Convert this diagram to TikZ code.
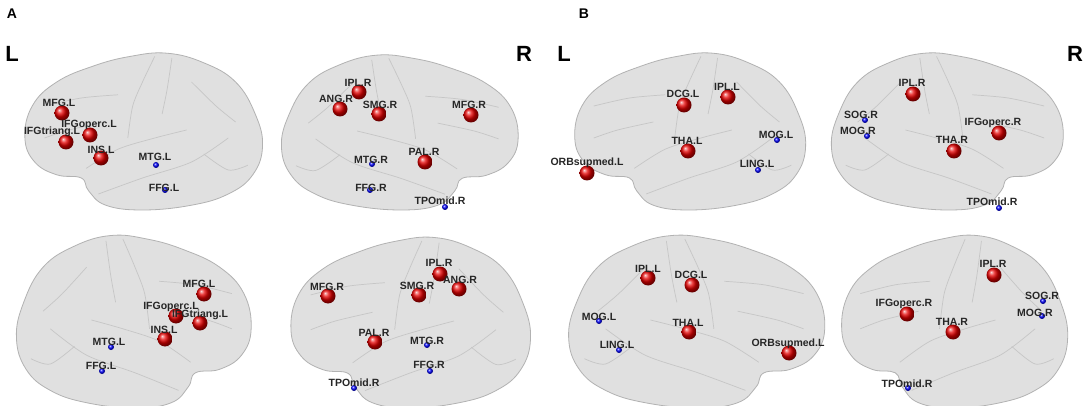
\documentclass[tikz,border=0pt]{standalone}
\usepackage{fontspec}
\setmainfont{Liberation Sans}
\begin{document}
\begin{tikzpicture}[x=1pt,y=-1pt,
  brainfill/.style={fill=gray!24,draw=gray!60,line width=0.8pt},
  sulc/.style={draw=gray!45,line width=0.7pt},
  rball/.style={circle,inner sep=0pt,minimum size=15pt,shading=ball,ball color=red!90!black},
  bball/.style={circle,inner sep=0pt,minimum size=6pt,shading=ball,ball color=blue},
  lab/.style={font=\fontsize{10.5}{12}\selectfont\bfseries,inner sep=0pt,text=black!85},
  big/.style={font=\fontsize{22}{24}\selectfont\bfseries,inner sep=0pt},
  panel/.style={font=\fontsize{14}{16}\selectfont\bfseries,inner sep=0pt}]
\useasboundingbox (0,0) rectangle (1084,406);
\fill[white] (0,0) rectangle (1084,406);
% brain: #1 x, #2 y, #3 w, #4 h, #5 xscale sign
\newcommand\brainshape[5]{%
\begin{scope}[shift={(#1,#2)},xscale=#3*#5,yscale=#4]
\path[brainfill] plot[smooth cycle,tension=0.7] coordinates{(0.02,0.55) (0.05,0.35) (0.15,0.2) (0.3,0.1) (0.45,0.04) (0.6,0.02) (0.75,0.08) (0.88,0.2) (0.96,0.4) (0.99,0.6) (0.95,0.78) (0.85,0.9) (0.7,0.97) (0.5,1.0) (0.35,0.97) (0.28,0.88) (0.25,0.8) (0.15,0.78) (0.06,0.7)};
\draw[sulc] plot[smooth] coordinates{(0.27,0.74) (0.4,0.62) (0.55,0.55) (0.68,0.5)};
\draw[sulc] plot[smooth] coordinates{(0.55,0.04) (0.5,0.2) (0.46,0.35) (0.44,0.55)};
\draw[sulc] plot[smooth] coordinates{(0.62,0.05) (0.6,0.25) (0.58,0.4)};
\draw[sulc] plot[smooth] coordinates{(0.32,0.9) (0.5,0.8) (0.7,0.7) (0.85,0.55)};
\draw[sulc] plot[smooth] coordinates{(0.1,0.35) (0.25,0.3) (0.4,0.28)};
\draw[sulc] plot[smooth] coordinates{(0.1,0.55) (0.2,0.5) (0.35,0.45)};
\draw[sulc] plot[smooth] coordinates{(0.7,0.2) (0.8,0.35) (0.88,0.45)};
\draw[sulc] plot[smooth] coordinates{(0.75,0.65) (0.85,0.75) (0.93,0.72)};
\end{scope}}
\brainshape{20}{50}{245}{160}{1}
\brainshape{523}{52}{244}{158}{-1}
\brainshape{256}{232}{242}{176}{-1}
\brainshape{286}{234}{247}{174}{1}
\brainshape{570}{50}{238}{160}{1}
\brainshape{1068}{50}{239}{160}{-1}
\brainshape{830}{232}{264}{176}{-1}
\brainshape{837}{232}{233}{176}{1}
% big letters
\node[panel] (pA) at (12,14) {A};
\node[panel] (pB) at (584,14) {B};
\node[big] (lA) at (12,54) {L};
\node[big] (rA) at (524,54) {R};
\node[big] (lB) at (564,54) {L};
\node[big] (rB) at (1075,54) {R};
% \reg{name}{style}{bx}{by}{lx}{ly}{text}
\newcommand\reg[7]{\node[#2] (#1b) at (#3,#4) {}; \node[lab] (#1) at (#5,#6) {#7};}
% top A left
\reg{a1}{rball}{62}{113}{59}{103}{MFG.L}
\reg{a2}{rball}{66}{142}{52}{132}{IFGtriang.L}
\reg{a3}{rball}{90}{135}{89}{125}{IFGoperc.L}
\reg{a4}{rball}{101}{158}{101}{150}{INS.L}
\reg{a5}{bball}{156}{165}{155}{157}{MTG.L}
\reg{a6}{bball}{165}{190}{164}{188}{FFG.L}
% top A right
\reg{b1}{rball}{359}{92}{358}{83}{IPL.R}
\reg{b2}{rball}{340}{109}{336}{99}{ANG.R}
\reg{b3}{rball}{379}{114}{380}{105}{SMG.R}
\reg{b4}{rball}{471}{115}{469}{105}{MFG.R}
\reg{b5}{rball}{425}{162}{424}{152}{PAL.R}
\reg{b6}{bball}{372}{164}{371}{160}{MTG.R}
\reg{b7}{bball}{370}{190}{371}{188}{FFG.R}
\reg{b8}{bball}{445}{207}{440}{201}{TPOmid.R}
% bottom A left
\reg{c1}{rball}{204}{294}{199}{284}{MFG.L}
\reg{c2}{rball}{176}{316}{171}{307}{IFGoperc.L}
\reg{c3}{rball}{200}{323}{200}{315}{IFGtriang.L}
\reg{c4}{rball}{165}{339}{164}{330}{INS.L}
\reg{c5}{bball}{111}{347}{109}{342}{MTG.L}
\reg{c6}{bball}{102}{371}{101}{366}{FFG.L}
% bottom A right
\reg{d1}{rball}{440}{274}{439}{263}{IPL.R}
\reg{d2}{rball}{459}{289}{460}{280}{ANG.R}
\reg{d3}{rball}{419}{295}{417}{286}{SMG.R}
\reg{d4}{rball}{328}{296}{327}{287}{MFG.R}
\reg{d5}{rball}{375}{342}{374}{333}{PAL.R}
\reg{d6}{bball}{427}{345}{427}{341}{MTG.R}
\reg{d7}{bball}{430}{371}{429}{365}{FFG.R}
\reg{d8}{bball}{354}{388}{354}{383}{TPOmid.R}
% top B left
\reg{e1}{rball}{684}{105}{683}{94}{DCG.L}
\reg{e2}{rball}{728}{97}{727}{87}{IPL.L}
\reg{e3}{rball}{688}{151}{687}{141}{THA.L}
\reg{e4}{rball}{587}{173}{587}{163}{ORBsupmed.L}
\reg{e5}{bball}{777}{140}{776}{135}{MOG.L}
\reg{e6}{bball}{758}{170}{757}{164}{LING.L}
% top B right
\reg{f1}{rball}{913}{94}{912}{83}{IPL.R}
\reg{f2}{bball}{865}{120}{861}{115}{SOG.R}
\reg{f3}{bball}{867}{136}{858}{131}{MOG.R}
\reg{f4}{rball}{999}{133}{993}{123}{IFGoperc.R}
\reg{f5}{rball}{954}{151}{952}{140}{THA.R}
\reg{f6}{bball}{999}{208}{992}{202}{TPOmid.R}
% bottom B left
\reg{g1}{rball}{648}{278}{648}{269}{IPL.L}
\reg{g2}{rball}{692}{285}{691}{275}{DCG.L}
\reg{g3}{rball}{689}{332}{688}{323}{THA.L}
\reg{g4}{rball}{789}{353}{788}{344}{ORBsupmed.L}
\reg{g5}{bball}{599}{321}{599}{317}{MOG.L}
\reg{g6}{bball}{619}{350}{617}{345}{LING.L}
% bottom B right
\reg{h1}{rball}{994}{275}{993}{264}{IPL.R}
\reg{h2}{bball}{1043}{301}{1042}{296}{SOG.R}
\reg{h3}{bball}{1042}{316}{1035}{313}{MOG.R}
\reg{h4}{rball}{907}{314}{904}{304}{IFGoperc.R}
\reg{h5}{rball}{953}{332}{952}{322}{THA.R}
\reg{h6}{bball}{908}{388}{907}{384}{TPOmid.R}
\end{tikzpicture}
\end{document}
